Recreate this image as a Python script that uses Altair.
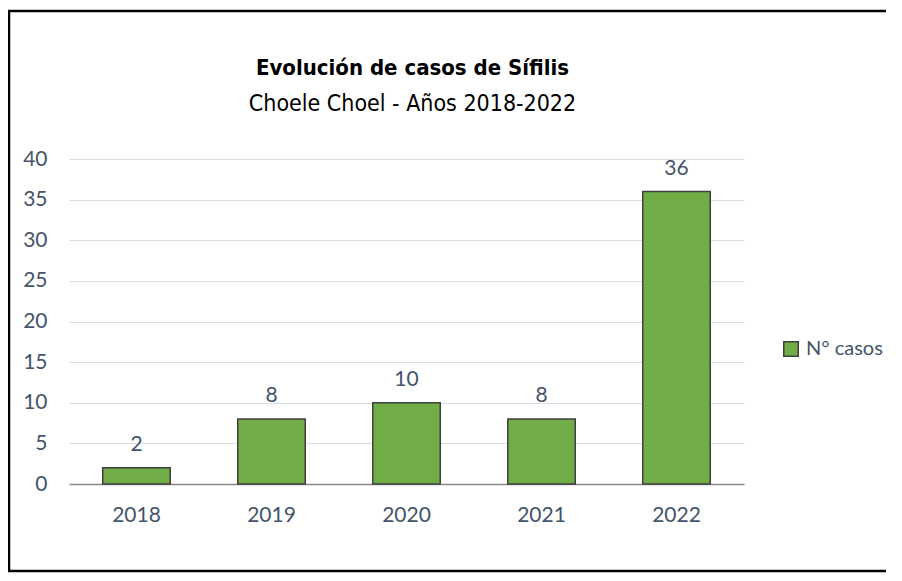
import altair as alt
import pandas as pd

years = ["2018", "2019", "2020", "2021", "2022"]
cases = [2, 8, 10, 8, 36]
series_name = "N° casos"

title_text = "Evolución de casos de Sífilis"
subtitle_text = "Choele Choel - Años 2018-2022"

df = pd.DataFrame({"year": years, "cases": cases, "serie": [series_name] * len(years)})

AXIS_FONT = "Lato"
TITLE_FONT = "'DejaVu Sans Condensed', 'Roboto', sans-serif"
TEXT_COLOR = "#44546A"

base = alt.Chart(df).encode(
    x=alt.X("year:N", title=None, sort=years,
            scale=alt.Scale(paddingInner=0.5, paddingOuter=0.25),
            axis=alt.Axis(labelAngle=0, ticks=False, domainColor="#8C8C8C",
                          domainWidth=1.5, labelPadding=20, labelFontSize=21,
                          labelColor=TEXT_COLOR, labelFont=AXIS_FONT, grid=False)),
    y=alt.Y("cases:Q", title=None,
            scale=alt.Scale(domain=[0, 40], nice=False),
            axis=alt.Axis(values=[0, 5, 10, 15, 20, 25, 30, 35, 40], ticks=False,
                          domain=False, labelPadding=22, labelFontSize=21,
                          labelColor=TEXT_COLOR, labelFont=AXIS_FONT,
                          gridColor="#D9DCE3", gridWidth=1.2)),
)

bars = base.mark_bar(stroke="#404040", strokeWidth=1.5).encode(
    color=alt.Color("serie:N", title=None,
                    scale=alt.Scale(range=["#70AD47"]),
                    legend=alt.Legend(orient="none", legendX=712, legendY=180,
                                      symbolType="square", symbolSize=210,
                                      symbolStrokeColor="#404040", symbolStrokeWidth=1.5,
                                      labelFontSize=20, labelColor=TEXT_COLOR,
                                      labelFont=AXIS_FONT, labelOffset=5))
)

labels = base.mark_text(dy=-17, baseline="alphabetic", fontSize=21,
                        font=AXIS_FONT, color=TEXT_COLOR).encode(text="cases:Q")

# decorative chart-area frame (top, left, bottom edges)
frame_data = alt.Data(values=[{}])
frame_top = alt.Chart(frame_data).mark_rule(color="#000000", strokeWidth=2.5).encode(
    x=alt.value(-61), x2=alt.value(880), y=alt.value(-148))
frame_left = alt.Chart(frame_data).mark_rule(color="#000000", strokeWidth=2.5).encode(
    x=alt.value(-60), y=alt.value(-149), y2=alt.value(413))
frame_bottom = alt.Chart(frame_data).mark_rule(color="#000000", strokeWidth=2.5).encode(
    x=alt.value(-61), x2=alt.value(880), y=alt.value(412))

chart = alt.layer(frame_top, frame_left, frame_bottom, bars, labels).properties(
    width=675,
    height=325,
    padding={"left": 61, "top": 151, "right": 142, "bottom": 90},
    autosize=alt.AutoSizeParams(type="none"),
    background="white",
    title=alt.TitleParams(
        text=title_text,
        subtitle=subtitle_text,
        font=TITLE_FONT,
        fontSize=22,
        fontWeight="bold",
        color="#000000",
        subtitleFont=TITLE_FONT,
        subtitleFontSize=23,
        subtitleColor="#000000",
        subtitleFontWeight="normal",
        subtitlePadding=13,
        anchor="middle",
        offset=30,
        dx=6,
        dy=138,
    ),
).configure_view(stroke=None)

chart.save("out.html", embed_options={"renderer": "svg", "actions": False})
